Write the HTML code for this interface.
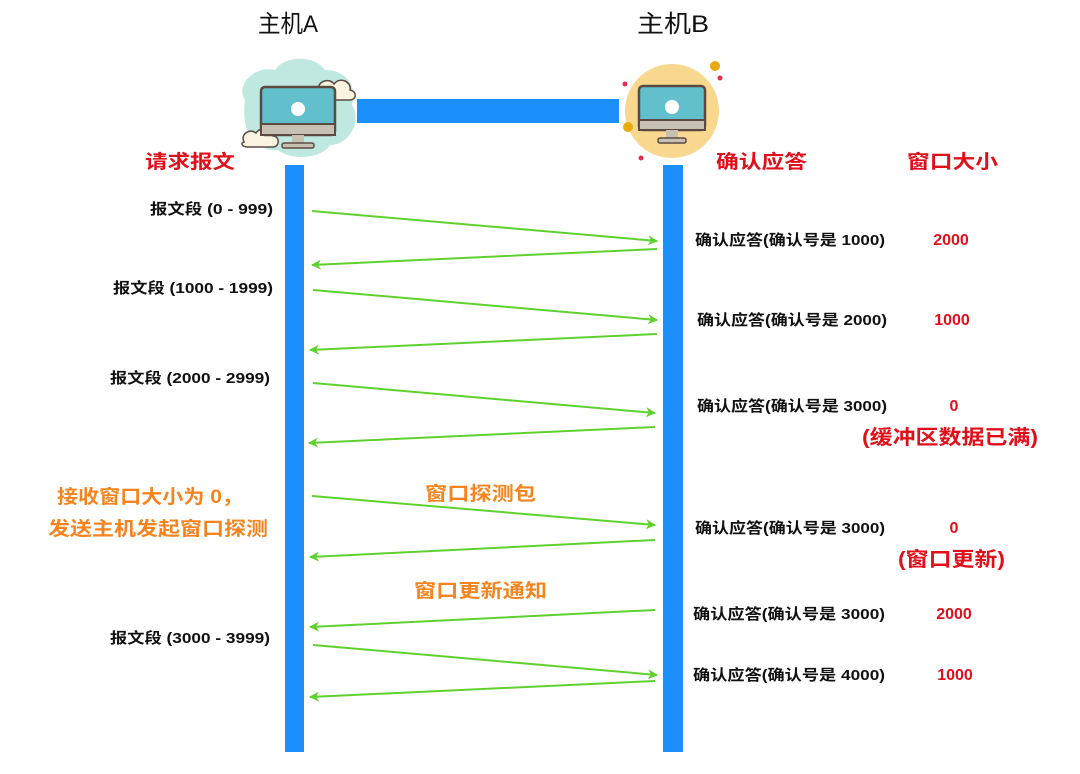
<!DOCTYPE html>
<html><head><meta charset="utf-8"><style>
body{margin:0;background:#fff}
svg text{font-family:"Liberation Sans","Noto Sans CJK SC",sans-serif}
</style></head><body>
<svg width="1080" height="769" viewBox="0 0 1080 769" xmlns="http://www.w3.org/2000/svg">
<defs><marker id="a" markerWidth="10" markerHeight="10" refX="9" refY="5" orient="auto" markerUnits="userSpaceOnUse"><path d="M0,0 L10,5 L0,10 L3,5 Z" fill="#5fd12e"/></marker></defs>
<text x="258" y="32" font-size="24" textLength="60" lengthAdjust="spacingAndGlyphs" fill="#111">主机A</text>
<text x="637" y="32" font-size="24" textLength="72" lengthAdjust="spacingAndGlyphs" fill="#111">主机B</text>
<g>
<path d="M245,100 C235,85 255,65 275,70 C285,55 315,55 325,70 C345,70 358,85 352,105 C362,120 350,145 330,145 C320,160 290,160 278,150 C258,152 240,135 245,100Z" fill="#bfe8e0"/>
<path d="M318,90 C318,80 330,78 334,84 C340,76 352,82 350,90 C358,92 356,100 350,100 L320,100 C314,100 313,92 318,90Z" fill="#fbf3e2" stroke="#5a4a42" stroke-width="1.5"/>
<path d="M244,142 C240,134 250,128 256,133 C260,126 272,128 273,136 C280,136 280,147 273,147 L248,147 C242,147 240,143 244,142Z" fill="#fbf3e2" stroke="#5a4a42" stroke-width="1.5"/>
<rect x="261" y="87" width="74" height="48" rx="4" fill="#62c0cc" stroke="#5a4a42" stroke-width="2.5"/>
<rect x="261" y="124" width="74" height="11" fill="#c9c0b4" stroke="#5a4a42" stroke-width="2"/>
<rect x="292" y="135" width="12" height="8" fill="#c9c0b4"/>
<rect x="282" y="143" width="32" height="5" rx="2" fill="#c9c0b4" stroke="#5a4a42" stroke-width="1.5"/>
<circle cx="298" cy="109" r="7" fill="#fff"/>
</g>
<circle cx="672" cy="111" r="47" fill="#f8d78e"/>
<circle cx="715" cy="66" r="5" fill="#e8a90d"/><circle cx="628" cy="127" r="5" fill="#e8a90d"/>
<circle cx="625" cy="84" r="2.5" fill="#e03050"/><circle cx="720" cy="78" r="2.5" fill="#e03050"/><circle cx="641" cy="158" r="2.5" fill="#e03050"/>
<rect x="639" y="86" width="66" height="44" rx="4" fill="#62c0cc" stroke="#5a4a42" stroke-width="2.5"/>
<rect x="639" y="120" width="66" height="10" fill="#c9c0b4" stroke="#5a4a42" stroke-width="2"/>
<rect x="666" y="130" width="12" height="8" fill="#c9c0b4"/>
<rect x="658" y="138" width="28" height="5" rx="2" fill="#c9c0b4" stroke="#5a4a42" stroke-width="1.5"/>
<circle cx="672" cy="107" r="7" fill="#fff"/>
<rect x="357" y="99" width="262" height="24" fill="#1b8ffc"/>
<rect x="285" y="165" width="19" height="587" fill="#1b8ffc"/>
<rect x="663" y="165" width="20" height="587" fill="#1b8ffc"/>
<g font-size="19" font-weight="bold" fill="#e0101a" lengthAdjust="spacingAndGlyphs">
<text x="145" y="168" textLength="90" lengthAdjust="spacingAndGlyphs">请求报文</text>
<text x="716" y="168" textLength="91" lengthAdjust="spacingAndGlyphs">确认应答</text>
<text x="907" y="168" textLength="91" lengthAdjust="spacingAndGlyphs">窗口大小</text>
</g>
<g stroke="#5fd12e" stroke-width="2" marker-end="url(#a)">
<line x1="312" y1="211" x2="657" y2="241"/>
<line x1="657" y1="249" x2="312" y2="265"/>
<line x1="313" y1="290" x2="657" y2="320"/>
<line x1="657" y1="334" x2="310" y2="350"/>
<line x1="313" y1="383" x2="655" y2="413"/>
<line x1="655" y1="427" x2="309" y2="443"/>
<line x1="312" y1="496" x2="655" y2="525"/>
<line x1="655" y1="540" x2="310" y2="557"/>
<line x1="655" y1="610" x2="310" y2="627"/>
<line x1="313" y1="645" x2="657" y2="675"/>
<line x1="655" y1="681" x2="310" y2="697"/>
</g>
<g font-size="15" font-weight="bold" fill="#111">
<text x="150" y="214" textLength="123" lengthAdjust="spacingAndGlyphs">报文段 (0 - 999)</text>
<text x="113" y="293" textLength="160" lengthAdjust="spacingAndGlyphs">报文段 (1000 - 1999)</text>
<text x="110" y="383" textLength="160" lengthAdjust="spacingAndGlyphs">报文段 (2000 - 2999)</text>
<text x="110" y="643" textLength="160" lengthAdjust="spacingAndGlyphs">报文段 (3000 - 3999)</text>
</g>
<g font-size="19" font-weight="bold" fill="#f5841f">
<text x="57" y="503" textLength="186" lengthAdjust="spacingAndGlyphs">接收窗口大小为 0，</text>
<text x="48" y="535" textLength="220" lengthAdjust="spacingAndGlyphs">发送主机发起窗口探测</text>
<text x="425" y="500" textLength="111" lengthAdjust="spacingAndGlyphs">窗口探测包</text>
<text x="414" y="597" textLength="133" lengthAdjust="spacingAndGlyphs">窗口更新通知</text>
</g>
<g font-size="15" font-weight="bold" fill="#111">
<text x="695" y="245" textLength="190" lengthAdjust="spacingAndGlyphs">确认应答(确认号是 1000)</text>
<text x="697" y="325" textLength="190" lengthAdjust="spacingAndGlyphs">确认应答(确认号是 2000)</text>
<text x="697" y="411" textLength="190" lengthAdjust="spacingAndGlyphs">确认应答(确认号是 3000)</text>
<text x="695" y="533" textLength="190" lengthAdjust="spacingAndGlyphs">确认应答(确认号是 3000)</text>
<text x="693" y="619" textLength="192" lengthAdjust="spacingAndGlyphs">确认应答(确认号是 3000)</text>
<text x="693" y="680" textLength="192" lengthAdjust="spacingAndGlyphs">确认应答(确认号是 4000)</text>
</g>
<g font-size="16" font-weight="bold" fill="#e0101a" text-anchor="middle">
<text x="951" y="245">2000</text>
<text x="952" y="325">1000</text>
<text x="954" y="411">0</text>
<text x="954" y="533">0</text>
<text x="954" y="619">2000</text>
<text x="955" y="680">1000</text>
</g>
<g font-size="20" font-weight="bold" fill="#e0101a">
<text x="862" y="444" textLength="176" lengthAdjust="spacingAndGlyphs">(缓冲区数据已满)</text>
<text x="898" y="566" textLength="107" lengthAdjust="spacingAndGlyphs">(窗口更新)</text>
</g>
</svg>
</body></html>
